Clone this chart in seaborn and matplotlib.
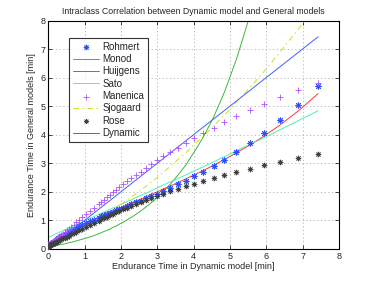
import numpy as np
import pandas as pd
import matplotlib
matplotlib.use("Agg")
import matplotlib.pyplot as plt
import seaborn as sns

# Endurance times [min]; x = dynamic model, one entry per load level
dynamic = [7.43, 6.88, 6.39, 5.95, 5.55, 5.18, 4.85, 4.55, 4.27, 4.01,
           3.78, 3.56, 3.36, 3.17, 3.00, 2.84, 2.69, 2.55, 2.41, 2.29,
           2.17, 2.07, 1.96, 1.87, 1.77, 1.69, 1.61, 1.53, 1.46, 1.39,
           1.26, 1.14, 1.04, 0.94, 0.85, 0.77, 0.70, 0.63, 0.57, 0.51,
           0.46, 0.41, 0.36, 0.32, 0.28, 0.24, 0.21, 0.18, 0.15, 0.12,
           0.09, 0.07, 0.04, 0.02, 0.00]

rohmert = [5.69, 5.04, 4.51, 4.07, 3.70, 3.39, 3.13, 2.90, 2.71, 2.54,
           2.39, 2.26, 2.14, 2.03, 1.93, 1.85, 1.77, 1.69, 1.63, 1.56,
           1.50, 1.45, 1.40, 1.35, 1.30, 1.26, 1.22, 1.18, 1.14, 1.10,
           1.03, 0.97, 0.91, 0.85, 0.80, 0.75, 0.70, 0.65, 0.61, 0.57,
           0.53, 0.49, 0.45, 0.42, 0.38, 0.35, 0.32, 0.29, 0.26, 0.23,
           0.20, 0.18, 0.15, 0.12, 0.10]

monod = [24.9, 17.8, 13.3, 10.28, 8.17, 6.64, 5.49, 4.61, 3.92, 3.38,
         2.93, 2.57, 2.27, 2.02, 1.80, 1.62, 1.47, 1.33, 1.21, 1.11,
         1.02, 0.94, 0.87, 0.80, 0.75, 0.69, 0.65, 0.61, 0.57, 0.53,
         0.47, 0.42, 0.38, 0.34, 0.31, 0.28, 0.26, 0.23, 0.22, 0.20,
         0.18, 0.17, 0.16, 0.15, 0.14, 0.13, 0.12, 0.11, 0.11, 0.10,
         0.096, 0.090, 0.085, 0.081, 0.077]

huijgens = [5.44, 4.83, 4.35, 3.96, 3.64, 3.37, 3.13, 2.93, 2.75, 2.59,
            2.45, 2.32, 2.21, 2.10, 2.00, 1.92, 1.83, 1.75, 1.68, 1.62,
            1.55, 1.49, 1.44, 1.38, 1.33, 1.29, 1.24, 1.20, 1.16, 1.12,
            1.04, 0.97, 0.91, 0.85, 0.80, 0.74, 0.69, 0.65, 0.60, 0.56,
            0.52, 0.48, 0.45, 0.41, 0.37, 0.34, 0.31, 0.27, 0.24, 0.21,
            0.17, 0.14, 0.10, 0.06, 0.00]

sato = [4.84, 4.49, 4.18, 3.90, 3.66, 3.44, 3.23, 3.05, 2.88, 2.73,
        2.59, 2.46, 2.35, 2.24, 2.14, 2.04, 1.95, 1.87, 1.80, 1.72,
        1.66, 1.60, 1.54, 1.48, 1.43, 1.38, 1.33, 1.29, 1.25, 1.21,
        1.13, 1.07, 1.01, 0.95, 0.90, 0.86, 0.81, 0.77, 0.74, 0.70,
        0.67, 0.64, 0.62, 0.59, 0.57, 0.55, 0.53, 0.51, 0.49, 0.47,
        0.46, 0.44, 0.43, 0.41, 0.40]

manenica = [5.81, 5.55, 5.31, 5.08, 4.86, 4.64, 4.44, 4.25, 4.06, 3.88,
            3.71, 3.55, 3.39, 3.24, 3.10, 2.97, 2.84, 2.71, 2.59, 2.48,
            2.37, 2.27, 2.17, 2.07, 1.98, 1.90, 1.81, 1.73, 1.66, 1.58,
            1.45, 1.32, 1.21, 1.11, 1.01, 0.93, 0.85, 0.77, 0.71, 0.65,
            0.59, 0.54, 0.49, 0.45, 0.41, 0.38, 0.35, 0.32, 0.29, 0.26,
            0.24, 0.22, 0.20, 0.19, 0.17]

sjogaard = [8.60, 7.69, 6.91, 6.23, 5.65, 5.14, 4.69, 4.30, 3.95, 3.64,
            3.36, 3.12, 2.89, 2.69, 2.51, 2.35, 2.20, 2.06, 1.93, 1.82,
            1.72, 1.62, 1.53, 1.45, 1.37, 1.30, 1.23, 1.17, 1.12, 1.06,
            0.97, 0.88, 0.81, 0.74, 0.69, 0.63, 0.59, 0.54, 0.51, 0.47,
            0.44, 0.41, 0.39, 0.36, 0.34, 0.32, 0.30, 0.29, 0.27, 0.26,
            0.24, 0.23, 0.22, 0.21, 0.20]

rose = [3.32, 3.19, 3.06, 2.93, 2.81, 2.70, 2.59, 2.48, 2.38, 2.29,
        2.19, 2.10, 2.02, 1.94, 1.86, 1.78, 1.71, 1.64, 1.57, 1.51,
        1.45, 1.39, 1.33, 1.28, 1.22, 1.18, 1.13, 1.08, 1.04, 0.99,
        0.92, 0.84, 0.78, 0.71, 0.66, 0.60, 0.56, 0.51, 0.47, 0.43,
        0.40, 0.37, 0.34, 0.31, 0.29, 0.26, 0.24, 0.22, 0.21, 0.19,
        0.17, 0.16, 0.15, 0.14, 0.12]

sns.set_style("ticks")
plt.rcParams['font.family'] = ['Liberation Sans', 'DejaVu Sans']
plt.rcParams['lines.scale_dashes'] = False

fig = plt.figure(figsize=(3.74, 2.81), dpi=100)
ax = fig.add_axes([0.129, 0.114, 0.777, 0.813])

asterisk = (8, 2, 0)
lw = 0.7

sns.scatterplot(x=dynamic, y=rohmert, ax=ax, marker=asterisk, color='#3050ff',
                s=14, linewidth=0.7, label='Rohmert', zorder=4)
sns.lineplot(x=dynamic, y=monod, ax=ax, sort=False, color='#3cb83c', lw=lw,
             label='Monod')
sns.lineplot(x=dynamic, y=huijgens, ax=ax, sort=False, color='#ff3838', lw=lw,
             label='Huijgens')
sns.lineplot(x=dynamic, y=sato, ax=ax, sort=False, color='#50f0b0', lw=lw,
             label='Sato')
sns.scatterplot(x=dynamic, y=manenica, ax=ax, marker='+', color='#b050ff',
                s=22, linewidth=0.6, label='Manenica', zorder=4)
sns.lineplot(x=dynamic, y=sjogaard, ax=ax, sort=False, color='#c8e020', lw=lw,
             linestyle=(0, (4, 2.5, 1, 2.5)), label='Sjogaard')
sns.scatterplot(x=dynamic, y=rose, ax=ax, marker=asterisk, color='#404040',
                s=12, linewidth=0.6, label='Rose', zorder=4)
sns.lineplot(x=dynamic, y=dynamic, ax=ax, sort=False, color='#4060ff', lw=lw,
             label='Dynamic')

ax.set_xlim(0, 8)
ax.set_ylim(0, 8)
ax.set_xticks(range(0, 9))
ax.set_yticks(range(0, 9))
ax.grid(True, linestyle=':', color='#b8b8b8', linewidth=0.6)
ax.tick_params(direction='in', top=True, right=True, length=3, width=0.6,
               labelsize=6.5, pad=2)
for sp in ax.spines.values():
    sp.set_linewidth(0.8)
    sp.set_color('black')

ax.set_title('Intraclass Correlation between Dynamic model and General models',
             fontsize=6.3, pad=5)
ax.set_xlabel('Endurance Time in Dynamic model [min]', fontsize=6.5, labelpad=1)
ax.set_ylabel('Endurance Time in General models [min]', fontsize=6.5, labelpad=3)

leg = ax.legend(loc='upper left', bbox_to_anchor=(0.071, 0.924), fontsize=7,
                frameon=True, fancybox=False, edgecolor='black',
                handlelength=2.7, handletextpad=0.35, labelspacing=0.24,
                borderpad=0.4, borderaxespad=0, markerscale=0.9)
leg.get_frame().set_linewidth(0.8)

fig.savefig('out.png', dpi=100)
